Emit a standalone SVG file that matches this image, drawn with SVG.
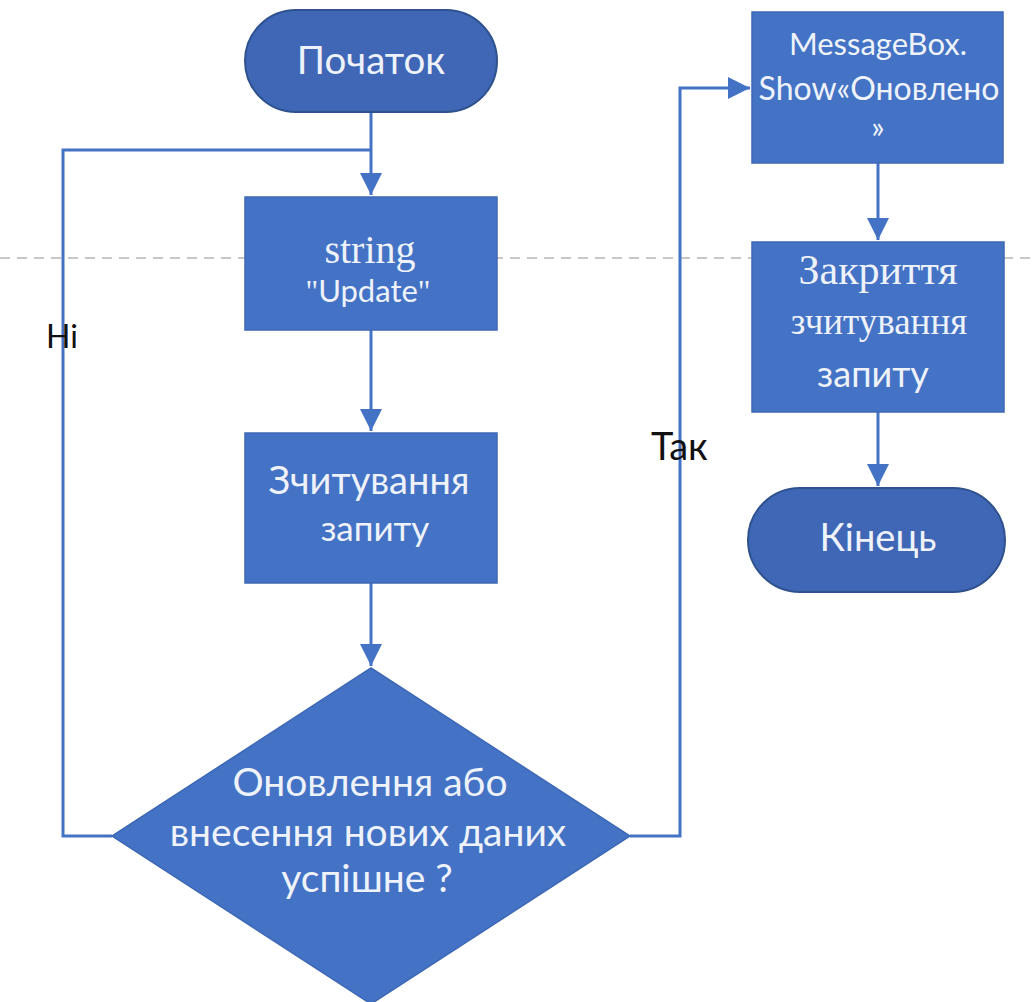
<svg xmlns="http://www.w3.org/2000/svg" width="1035" height="1002" viewBox="0 0 1035 1002">
<style>
.box{fill:#4472c4;stroke:#3d68b5;stroke-width:1.5}
.term{fill:#3f67b6;stroke:#2f528f;stroke-width:2}
.t{fill:#eef2fa;font-family:Lato,"Noto Sans",sans-serif;text-anchor:middle}
.s{fill:#eef2fa;font-family:"Liberation Serif",serif;text-anchor:middle}
.c{fill:none;stroke:#4472c4;stroke-width:3}
.lbl{fill:#111;font-family:Lato,"Noto Sans",sans-serif}
</style>
<defs>
<marker id="ah" viewBox="0 0 10 10" refX="10" refY="5" markerWidth="7.5" markerHeight="7.5" markerUnits="strokeWidth" orient="auto">
<path d="M0,0 L10,5 L0,10 z" fill="#4472c4"/>
</marker>
</defs>
<rect width="1035" height="1002" fill="#fff"/>
<line x1="0" y1="258" x2="1035" y2="258" stroke="#b5b5b5" stroke-width="1.5" stroke-dasharray="10,7"/>
<g id="connectors">
<path class="c" d="M371,112 V195" marker-end="url(#ah)"/>
<path class="c" d="M112,836 H63 V150 H371"/>
<path class="c" d="M371,330 V431" marker-end="url(#ah)"/>
<path class="c" d="M371,583 V666" marker-end="url(#ah)"/>
<path class="c" d="M630,836 H680 V88 H750" marker-end="url(#ah)"/>
<path class="c" d="M878,163 V240" marker-end="url(#ah)"/>
<path class="c" d="M878,412 V486" marker-end="url(#ah)"/>
<text class="lbl" x="46" y="348" font-size="32">Ні</text>
<text class="lbl" x="651" y="460" font-size="38">Так</text>
</g>
<g id="start">
<rect class="term" x="245" y="10" width="252" height="102" rx="51"/>
<text class="t" x="371" y="74" font-size="38.5">Початок</text>
</g>
<g id="string">
<rect class="box" x="245" y="197" width="252" height="133"/>
<text class="s" x="370" y="263" font-size="40">string</text>
<text class="t" x="368" y="302" font-size="31"><tspan font-family="Liberation Serif">"</tspan>Update<tspan font-family="Liberation Serif">"</tspan></text>
</g>
<g id="read">
<rect class="box" x="245" y="433" width="252" height="150"/>
<text class="t" x="369" y="494" font-size="38">Зчитування</text>
<text class="t" x="375" y="541" font-size="35">запиту</text>
</g>
<g id="decision">
<polygon class="box" points="371,668 630,836 371,1004 112,836"/>
<text class="t" x="370" y="796" font-size="39">Оновлення або</text>
<text class="t" x="368" y="846" font-size="39">внесення нових даних</text>
<text class="t" x="367" y="892" font-size="39">успішне ?</text>
</g>
<g id="msg">
<rect class="box" x="752" y="12" width="251" height="151"/>
<text class="t" x="878" y="55" font-size="31">MessageBox.</text>
<text class="t" x="879" y="100" font-size="32">Show«Оновлено</text>
<text class="t" x="878" y="138" font-size="31">»</text>
</g>
<g id="close">
<rect class="box" x="752" y="242" width="252" height="170"/>
<text class="s" x="878" y="284" font-size="42">Закриття</text>
<text class="s" x="879" y="334" font-size="37">зчитування</text>
<text class="t" x="873" y="387" font-size="36">запиту</text>
</g>
<g id="end">
<rect class="term" x="748" y="488" width="257" height="104" rx="52"/>
<text class="t" x="878" y="551" font-size="38">Кінець</text>
</g>
</svg>
